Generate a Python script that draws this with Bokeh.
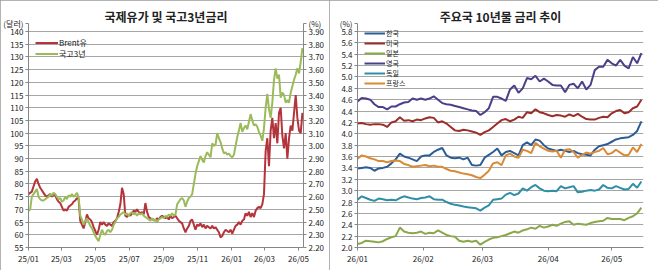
import pandas as pd
from bokeh.plotting import figure
from bokeh.models import (Range1d, LinearAxis, DatetimeTickFormatter, MonthsTicker,
                          FixedTicker, NumeralTickFormatter, Legend, LegendItem)
from bokeh.layouts import row
from bokeh.embed import file_html
from bokeh.resources import INLINE

# ---------------- data: left chart (every 3 days from 2025-01-01) ----------------
oil_dates = pd.date_range("2025-01-01", periods=165, freq="3D")
brent = [76, 76.5, 77, 79, 81, 82, 80, 78.5, 77.5, 76.5,
         75.5, 75, 75.5, 76, 75, 76, 75.5, 74, 73, 72.5,
         71, 69.5, 70, 69.5, 71, 71.5, 72, 73, 73.5, 74.5,
         74, 65.5, 64, 62.5, 65, 68, 66.5, 66, 65, 63,
         61.5, 60, 62, 65, 64, 65, 64, 63.5, 64.5, 64,
         63.5, 65, 65.5, 66.5, 69, 72, 78.5, 76, 67.5, 67,
         68, 67.5, 68.5, 69.5, 69, 70, 69, 68.5, 69, 68,
         72.5, 69, 67, 66.5, 66, 66, 65.5, 66.5, 66, 67,
         67.5, 67, 66.5, 67, 66, 67.5, 66.5, 67, 67.5, 66.5,
         65.5, 65, 64.5, 62.5, 61, 62.5, 63.5, 65.5, 66, 64,
         62, 64, 63.5, 64.5, 63, 64, 62.5, 63.5, 63, 62.5,
         63.5, 62.5, 63, 62, 61, 59, 59.5, 61, 62, 61.5,
         61, 62, 60.5, 62, 63.5, 64, 65, 64, 65.5, 66,
         68.5, 67.5, 69, 67, 68.5, 67, 69.5, 70.5, 71, 70.5,
         72, 76, 93, 98, 87, 101, 106, 98, 104, 96,
         108, 110, 99, 94, 100, 90, 98, 103, 101, 108,
         115, 106, 101, 100, 108]
ktb3 = [2.49, 2.50, 2.60, 2.62, 2.64, 2.66, 2.60, 2.58, 2.57, 2.57,
        2.58, 2.59, 2.60, 2.62, 2.61, 2.63, 2.62, 2.60, 2.58, 2.59,
        2.56, 2.57, 2.60, 2.58, 2.61, 2.60, 2.62, 2.60, 2.61, 2.63,
        2.60, 2.45, 2.42, 2.38, 2.41, 2.43, 2.40, 2.37, 2.35, 2.32,
        2.29, 2.27, 2.25, 2.30, 2.34, 2.31, 2.30, 2.33, 2.34, 2.32,
        2.34, 2.38, 2.40, 2.43, 2.44, 2.46, 2.47, 2.48, 2.46, 2.47,
        2.45, 2.47, 2.48, 2.46, 2.47, 2.45, 2.47, 2.46, 2.47, 2.45,
        2.44, 2.43, 2.42, 2.41, 2.43, 2.41, 2.42, 2.40, 2.42, 2.43,
        2.44, 2.43, 2.45, 2.44, 2.46, 2.45, 2.47, 2.45, 2.46, 2.54,
        2.56, 2.58, 2.59, 2.57, 2.52, 2.56, 2.59, 2.60, 2.62, 2.70,
        2.78, 2.84, 2.88, 2.92, 2.89, 2.87, 2.92, 2.95, 2.93, 2.91,
        3.02, 3.00, 3.01, 3.10, 3.06, 3.03, 2.98, 2.94, 2.95, 2.93,
        2.94, 2.92, 2.91, 2.93, 3.00, 3.07, 3.12, 3.18, 3.11, 3.14,
        3.16, 3.13, 3.19, 3.25, 3.20, 3.16, 3.17, 3.15, 3.11, 3.08,
        3.04, 3.14, 3.30, 3.41, 3.29, 3.22, 3.34, 3.52, 3.61, 3.53,
        3.56, 3.38, 3.42, 3.40, 3.34, 3.36, 3.34, 3.42, 3.47, 3.52,
        3.56, 3.61, 3.57, 3.66, 3.77]

# ---------------- data: right chart (every 2 days from 2026-01-01) ----------------
rate_dates = pd.date_range("2026-01-01", periods=68, freq="2D")
korea = [3.39, 3.40, 3.41, 3.40, 3.35, 3.39, 3.40, 3.42, 3.48, 3.55,
         3.65, 3.60, 3.58, 3.55, 3.52, 3.60, 3.62, 3.62, 3.68, 3.72,
         3.75, 3.62, 3.58, 3.57, 3.58, 3.55, 3.58, 3.45, 3.44, 3.45,
         3.58, 3.63, 3.68, 3.74, 3.62, 3.68, 3.70, 3.66, 3.62, 3.80,
         3.85, 3.80, 3.90, 3.88, 3.80, 3.74, 3.72, 3.70, 3.72, 3.70,
         3.68, 3.70, 3.66, 3.64, 3.63, 3.62, 3.72, 3.78, 3.80, 3.82,
         3.86, 3.90, 3.92, 3.93, 3.94, 3.98, 4.05, 4.22]
usa = [4.18, 4.19, 4.17, 4.16, 4.17, 4.17, 4.16, 4.12, 4.20, 4.22,
       4.29, 4.23, 4.24, 4.22, 4.25, 4.24, 4.27, 4.29, 4.28, 4.20,
       4.22, 4.18, 4.12, 4.06, 4.05, 4.07, 4.06, 4.04, 4.02, 3.98,
       4.03, 4.06, 4.12, 4.18, 4.24, 4.26, 4.22, 4.25, 4.30, 4.28,
       4.38, 4.36, 4.43, 4.38, 4.36, 4.33, 4.31, 4.33, 4.32, 4.30,
       4.34, 4.31, 4.35, 4.30, 4.26, 4.25, 4.25, 4.28, 4.30, 4.29,
       4.36, 4.40, 4.42, 4.36, 4.38, 4.45, 4.48, 4.60]
japan = [2.06, 2.08, 2.12, 2.11, 2.10, 2.09, 2.11, 2.15, 2.18, 2.20,
         2.35, 2.28, 2.26, 2.25, 2.26, 2.28, 2.24, 2.26, 2.25, 2.30,
         2.26, 2.22, 2.20, 2.19, 2.12, 2.10, 2.12, 2.10, 2.12, 2.05,
         2.10, 2.14, 2.17, 2.18, 2.20, 2.22, 2.25, 2.28, 2.26, 2.30,
         2.32, 2.35, 2.33, 2.38, 2.35, 2.37, 2.40, 2.38, 2.42, 2.45,
         2.46, 2.40, 2.42, 2.41, 2.40, 2.43, 2.45, 2.46, 2.47, 2.52,
         2.50, 2.50, 2.50, 2.48, 2.52, 2.55, 2.60, 2.70]
uk = [4.57, 4.63, 4.62, 4.60, 4.52, 4.47, 4.47, 4.43, 4.48, 4.48,
      4.52, 4.55, 4.56, 4.62, 4.60, 4.62, 4.60, 4.62, 4.66, 4.60,
      4.54, 4.52, 4.51, 4.49, 4.47, 4.45, 4.43, 4.41, 4.40, 4.33,
      4.38, 4.45, 4.65, 4.65, 4.62, 4.58, 4.78, 4.85, 4.72, 4.80,
      4.98, 4.96, 5.02, 4.92, 4.97, 4.92, 4.86, 4.85, 4.85, 4.73,
      4.86, 4.88, 4.80, 4.92, 4.78, 4.86, 5.12, 5.18, 5.18, 5.30,
      5.24, 5.20, 5.30, 5.20, 5.15, 5.35, 5.24, 5.42]
germany = [2.84, 2.90, 2.87, 2.84, 2.82, 2.86, 2.85, 2.83, 2.84, 2.83,
           2.87, 2.90, 2.88, 2.86, 2.85, 2.87, 2.88, 2.90, 2.85, 2.84,
           2.84, 2.80, 2.77, 2.75, 2.74, 2.72, 2.71, 2.70, 2.69, 2.65,
           2.70, 2.74, 2.84, 2.85, 2.86, 2.93, 2.96, 2.92, 2.95, 3.04,
           3.00, 3.06, 3.10, 3.04, 3.00, 2.99, 3.00, 2.99, 3.08, 3.04,
           3.06, 3.08, 2.97, 2.98, 3.00, 3.01, 3.00, 3.02, 3.10, 3.05,
           3.04, 3.08, 3.05, 3.02, 3.03, 3.12, 3.05, 3.16]
france = [3.56, 3.62, 3.60, 3.57, 3.55, 3.52, 3.52, 3.50, 3.52, 3.53,
          3.52, 3.47, 3.45, 3.42, 3.43, 3.44, 3.45, 3.43, 3.44, 3.42,
          3.42, 3.38, 3.35, 3.34, 3.32, 3.30, 3.29, 3.27, 3.24, 3.22,
          3.28, 3.35, 3.48, 3.50, 3.45, 3.62, 3.65, 3.60, 3.58, 3.72,
          3.70, 3.66, 3.84, 3.78, 3.74, 3.70, 3.69, 3.70, 3.58, 3.72,
          3.73, 3.68, 3.58, 3.63, 3.67, 3.65, 3.68, 3.70, 3.75, 3.64,
          3.66, 3.72, 3.67, 3.62, 3.63, 3.76, 3.68, 3.82]

rate_series = [("한국", korea, "#2B5C96"), ("미국", usa, "#9B2D2A"), ("일본", japan, "#8AA84A"),
               ("영국", uk, "#4B3F8A"), ("독일", germany, "#2F8FA8"), ("프랑스", france, "#DA8A34")]

# axis scales and unit labels
oil_ticks = list(range(55, 141, 5))
oil_top = 143.15                     # unit label sits at the top of the axis
ktb_ticks = [round(2.2 + 0.1 * k, 2) for k in range(18)]
ktb_top = 3.963
rate_ticks = [round(2.0 + 0.2 * k, 1) for k in range(20)]
rate_top = 5.94

FONT = "Noto Sans CJK KR"
GRID = "#A6A6A6"
AXIS = "#868686"
TXT = "#222222"
BORDER = {"outline": "1px solid #9A9A9A", "outline-offset": "-1px"}


def style_axis(ax):
    ax.axis_line_color = AXIS
    ax.major_tick_line_color = AXIS
    ax.minor_tick_line_color = None
    ax.major_tick_in = 0
    ax.major_tick_out = 3
    ax.major_label_text_font = FONT
    ax.major_label_text_font_size = "8px"
    ax.major_label_text_color = TXT
    ax.major_label_standoff = 2


def date_fmt():
    f = "%y/%m"
    return DatetimeTickFormatter(years=f, months=f, days=f, hours=f, hourmin=f,
                                 minutes=f, minsec=f, seconds=f, milliseconds=f, microseconds=f)


def style_title(p, standoff):
    p.title.align = "center"
    p.title.text_font = FONT
    p.title.text_font_size = "12px"
    p.title.text_font_style = "bold"
    p.title.text_color = "#222222"
    p.title.standoff = standoff


# ---------------- left figure ----------------
p1 = figure(width=329, height=270, x_axis_type="datetime", output_backend="svg",
            toolbar_location=None, title="국제유가 및 국고3년금리",
            x_range=Range1d(pd.Timestamp("2025-01-01"), pd.Timestamp("2026-05-10")),
            y_range=Range1d(55, oil_top),
            min_border_left=28, min_border_right=26, min_border_top=23, min_border_bottom=23)
p1.styles = BORDER
p1.extra_y_ranges = {"rate": Range1d(2.2, ktb_top)}
p1.outline_line_color = None
style_title(p1, -2)

p1.yaxis.ticker = FixedTicker(ticks=oil_ticks + [oil_top])
p1.yaxis.major_label_overrides = {oil_top: "(달러)"}
p1.xaxis.ticker = MonthsTicker(months=[0, 2, 4, 6, 8, 10])
p1.xaxis.formatter = date_fmt()
right_ax = LinearAxis(y_range_name="rate", ticker=FixedTicker(ticks=ktb_ticks + [ktb_top]),
                      formatter=NumeralTickFormatter(format="0.00"),
                      major_label_overrides={ktb_top: "(%)"})
p1.add_layout(right_ax, "right")
for ax in [p1.xaxis[0], p1.yaxis[0], right_ax]:
    style_axis(ax)
p1.xgrid.visible = False
p1.ygrid.ticker = FixedTicker(ticks=oil_ticks)
p1.ygrid.grid_line_color = GRID

r_brent = p1.line(oil_dates, brent, line_color="#B5333A", line_width=2)
r_ktb = p1.line(oil_dates, ktb3, line_color="#9BBB59", line_width=2, y_range_name="rate")

leg1 = Legend(items=[LegendItem(label="Brent유", renderers=[r_brent]),
                     LegendItem(label="국고3년", renderers=[r_ktb])],
              location=(7, 188), border_line_color=None, background_fill_alpha=0,
              label_text_font=FONT, label_text_font_size="8px", label_text_color=TXT,
              glyph_width=23, glyph_height=9, label_height=9, spacing=0, padding=0,
              margin=0, label_standoff=1)
p1.add_layout(leg1)

# ---------------- right figure ----------------
p2 = figure(width=329, height=270, x_axis_type="datetime", output_backend="svg",
            toolbar_location=None, title="주요국 10년물 금리 추이",
            x_range=Range1d(pd.Timestamp("2026-01-01"), pd.Timestamp("2026-05-16")),
            y_range=Range1d(2.0, rate_top),
            min_border_left=28, min_border_right=15, min_border_top=21, min_border_bottom=19)
p2.styles = BORDER
p2.outline_line_color = None
style_title(p2, -2)

p2.yaxis.ticker = FixedTicker(ticks=rate_ticks + [rate_top])
p2.yaxis.formatter = NumeralTickFormatter(format="0.0")
p2.yaxis.major_label_overrides = {rate_top: "(%)"}
p2.xaxis.ticker = MonthsTicker(months=list(range(12)))
p2.xaxis.formatter = date_fmt()
for ax in [p2.xaxis[0], p2.yaxis[0]]:
    style_axis(ax)
p2.xgrid.visible = False
p2.ygrid.ticker = FixedTicker(ticks=rate_ticks)
p2.ygrid.grid_line_color = GRID

items = []
for name, vals, col in rate_series:
    r = p2.line(rate_dates, vals, line_color=col, line_width=2)
    items.append(LegendItem(label=name, renderers=[r]))

leg2 = Legend(items=items, location=(7, 159), border_line_color=None, background_fill_alpha=0,
              label_text_font=FONT, label_text_font_size="7px", label_text_color=TXT,
              glyph_width=21, glyph_height=8, label_height=8, spacing=0, padding=0,
              margin=0, label_standoff=1)
p2.add_layout(leg2)

layout = row(p1, p2)
open("out.html", "w").write(file_html(layout, INLINE))
